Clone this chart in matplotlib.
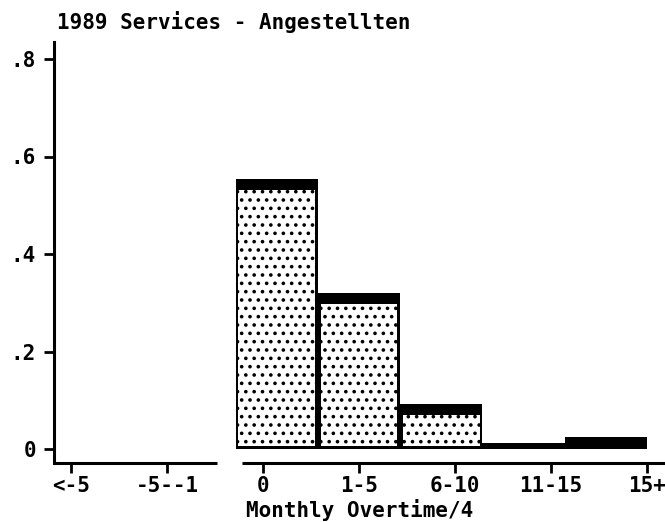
import matplotlib

matplotlib.use("Agg")
import matplotlib.pyplot as plt
import matplotlib.transforms as mtransforms
import numpy as np

# categories of monthly overtime (coded 1..7), Stata-style histogram with 7 bins
categories = ["<-5", "-5--1", "0", "1-5", "6-10", "11-15", "15+"]
cat_codes = [1, 2, 3, 4, 5, 6, 7]
n_bins = 7
fractions = [0.0, 0.0, 0.553, 0.320, 0.092, 0.012, 0.024]
yticks = [0, 0.2, 0.4, 0.6, 0.8]
ytick_labels = ["0", ".2", ".4", ".6", ".8"]
title = "1989 Services - Angestellten"
xlabel = "Monthly Overtime/4"

FONT = "DejaVu Sans Mono"
plt.rcParams["font.family"] = FONT
plt.rcParams["hatch.linewidth"] = 1.4

fig = plt.figure(figsize=(6.65, 5.22), dpi=100)
ax = fig.add_axes([54 / 665, 1 - 463 / 522, 1 - 54 / 665, (463 - 42) / 522])

lo, hi = cat_codes[0], cat_codes[-1]
edges = np.linspace(lo, hi, n_bins + 1)
width = edges[1] - edges[0]
heights = np.array(fractions)

# outer black bars, then speckled inner fill inset from the border
top_band = 0.022
side = 0.03
ax.bar(edges[:-1], heights, width=width, align="edge", color="black",
       linewidth=0)
inner_h = np.clip(heights - top_band - 0.006, 0, None)
ax.bar(edges[:-1] + side, inner_h, width=width - 2 * side, bottom=0.006,
       align="edge", color="white", edgecolor="black", linewidth=0,
       hatch="..")

ax.set_xlim(lo - 17 / 96, hi + 18 / 96)
ax.set_ylim(-14 / 487.5, 407 / 487.5)

# broken x axis drawn as two segments
for spine in ("top", "right", "bottom"):
    ax.spines[spine].set_visible(False)
ax.spines["left"].set_linewidth(2.2)
trans = mtransforms.blended_transform_factory(ax.transData, ax.transAxes)
ax.plot([lo - 17 / 96, 2.52], [0, 0], color="black", lw=2.2,
        transform=trans, clip_on=False, solid_capstyle="butt")
ax.plot([2.78, hi + 0.5], [0, 0], color="black", lw=2.2,
        transform=trans, clip_on=False, solid_capstyle="butt")

ax.set_xticks(cat_codes)
ax.set_xticklabels(categories)
ax.set_yticks(yticks)
ax.set_yticklabels(ytick_labels)
ax.tick_params(axis="both", direction="out", length=7, width=2,
               labelsize=15, pad=2)
ax.tick_params(axis="y", pad=6)
for lab in ax.get_xticklabels() + ax.get_yticklabels():
    lab.set_fontweight("bold")

ax.set_xlabel(xlabel, fontsize=15, fontweight="bold", va="center")
ax.xaxis.set_label_coords(0.5, -(510 - 463) / 421)
fig.text(57 / 665, 1 - 22 / 522, title, fontsize=15, fontweight="bold",
         ha="left", va="center")

fig.savefig("out.png", dpi=100)
